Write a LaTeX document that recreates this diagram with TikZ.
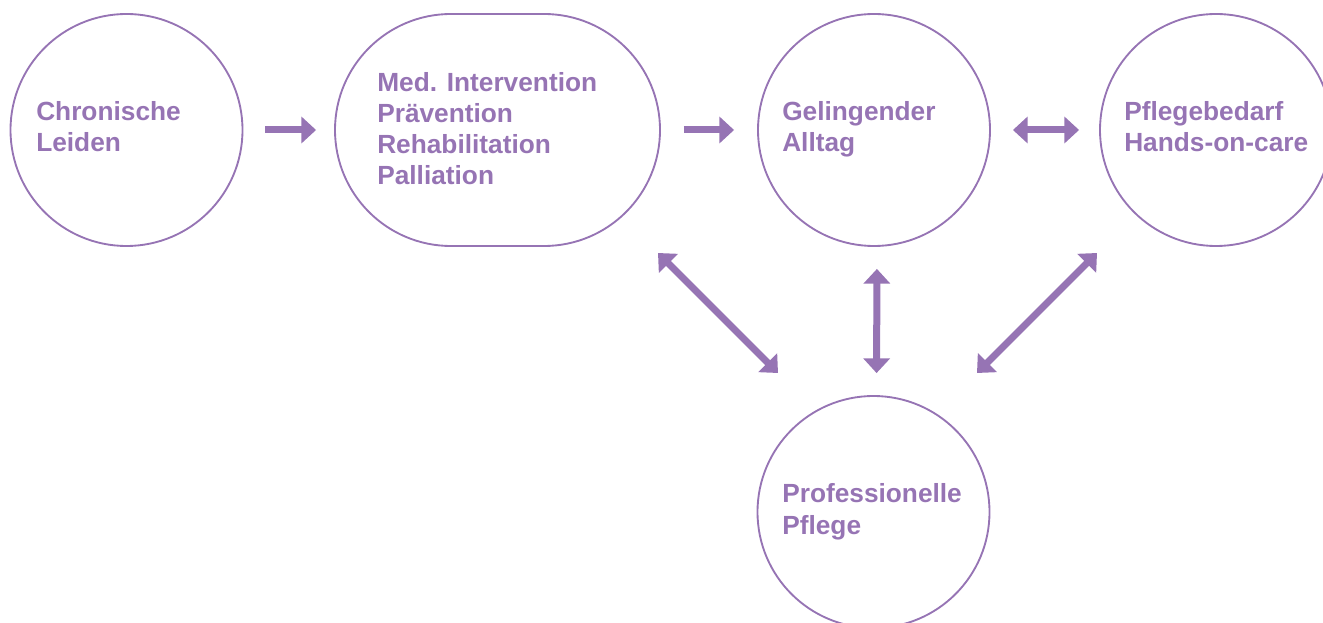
\documentclass[tikz,border=0pt]{standalone}
\usepackage{fontspec}
\setmainfont{Liberation Sans}
\usetikzlibrary{arrows.meta,shapes.misc}
\definecolor{lila}{RGB}{150,116,180}
\tikzset{bigtip/.tip={Triangle[width=19.5pt,length=11pt]}}
\begin{document}
\begin{tikzpicture}[x=0.75pt,y=-0.75pt,
  ring/.style={draw=lila,line width=1.4pt,circle,minimum size=174pt,inner sep=0pt},
  pill/.style={draw=lila,line width=1.4pt,rounded rectangle,minimum width=243.75pt,minimum height=174pt,inner sep=0pt},
  lbl/.style={anchor=base west,inner sep=0pt,text=lila,align=left,
    font=\fontsize{19.7}{23.4}\selectfont\bfseries},
  flow/.style={draw=lila,line width=5.25pt,-bigtip},
  both/.style={draw=lila,line width=5.25pt,bigtip-bigtip}]
\useasboundingbox (0,0) rectangle (1323,623);

% stations
\node[ring] (chron) at (126.5,130) {};
\node[pill] (med) at (497.5,130) {};
\node[ring] (gel) at (874,130) {};
\node[ring] (bed) at (1216,130) {};
\node[ring] (prof) at (873.5,512) {};

% texts (anchored at the baseline of their last line)
\node[lbl] (tchron) at (36,152) {Chronische\\Leiden};
\node[lbl] (tmed) at (377,185) {Med. Intervention\\Prävention\\Rehabilitation\\Palliation};
\node[lbl] (tgel) at (782,152) {Gelingender\\Alltag};
\node[lbl] (tbed) at (1124,152) {Pflegebedarf\\Hands-on-care};
\node[lbl] (tprof) at (782,534) {Professionelle\\Pflege};

% free ends of the diagonal links
\coordinate (dla) at (658,253);
\coordinate (dlb) at (778,373);
\coordinate (dra) at (1097,253);
\coordinate (drb) at (977,373);

% connectors
\draw[flow,shorten <=16.5pt,shorten >=13.5pt] (chron.east) -- (med.west);
\draw[flow,shorten <=17.25pt,shorten >=17.25pt] (med.east) -- (gel.west);
\draw[both,shorten <=16.5pt,shorten >=15pt] (gel.east) -- (bed.west);
\draw[both,shorten <=16.5pt,shorten >=16.5pt] ([xshift=2.25pt]gel.south) -- ([xshift=2.25pt]prof.north);
\draw[both] (dla) -- (dlb);
\draw[both] (dra) -- (drb);
\end{tikzpicture}
\end{document}
